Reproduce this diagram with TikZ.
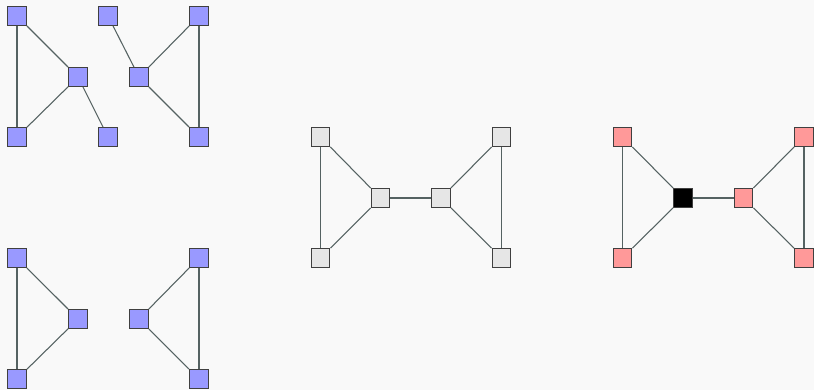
\documentclass[tikz,border=0pt]{standalone}
\usepackage{tikz}

\definecolor{bluefill}{HTML}{9999FF}
\definecolor{greyfill}{HTML}{E6E6E6}
\definecolor{pinkfill}{HTML}{FF9999}
\definecolor{edgecol}{HTML}{556262}
\definecolor{canvas}{HTML}{F9F9F9}

\begin{document}
\begin{tikzpicture}[
    x=.75pt, y=-.75pt,
    vertex/.style={draw=black!75, line width=.9pt, minimum size=14pt,
        inner sep=0, rectangle},
    bluev/.style={vertex, fill=bluefill},
    greyv/.style={vertex, fill=greyfill},
    pinkv/.style={vertex, fill=pinkfill},
    cutv/.style={vertex, fill=black},
    edge/.style={draw=edgecol, line width=.8pt},
]
    \fill[canvas] (0, 0) rectangle (814, 390);
    \useasboundingbox (0, 0) rectangle (814, 390);

    %% top left: the two separate pieces
    \foreach \name/\x/\y in {a1/17/16, a2/17/137, a3/78/77, a4/108/137,
            b1/108/16, b2/139/77, b3/199/16, b4/199/137}{
        \node[bluev] (\name) at (\x, \y) {};
    }
    \foreach \p/\q in {a1/a2, a1/a3, a2/a3, a3/a4,
            b1/b2, b3/b2, b2/b4, b3/b4}{
        \draw[edge] (\p) -- (\q);
    }

    %% bottom left: two triangles
    \foreach \name/\x/\y in {c1/17/258, c2/17/379, c3/78/319,
            d1/139/319, d2/199/258, d3/199/379}{
        \node[bluev] (\name) at (\x, \y) {};
    }
    \foreach \p/\q in {c1/c2, c1/c3, c2/c3, d2/d1, d3/d1, d2/d3}{
        \draw[edge] (\p) -- (\q);
    }

    %% middle: the triangles joined by one edge
    \foreach \name/\x/\y in {e1/320.5/137, e2/320.5/258, e3/380.5/198,
            e4/441/198, e5/501.5/137, e6/501.5/258}{
        \node[greyv] (\name) at (\x, \y) {};
    }
    \foreach \p/\q in {e1/e2, e1/e3, e2/e3, e3/e4, e5/e4, e6/e4, e5/e6}{
        \draw[edge] (\p) -- (\q);
    }

    %% right: same graph, the cut vertex in black
    \foreach \name/\x/\y in {f1/622.5/137, f2/622.5/258,
            f4/743.5/198, f5/804/137, f6/804/258}{
        \node[pinkv] (\name) at (\x, \y) {};
    }
    \node[cutv] (f3) at (683, 198) {};
    \foreach \p/\q in {f1/f2, f1/f3, f2/f3, f3/f4, f5/f4, f6/f4, f5/f6}{
        \draw[edge] (\p) -- (\q);
    }
\end{tikzpicture}
\end{document}
